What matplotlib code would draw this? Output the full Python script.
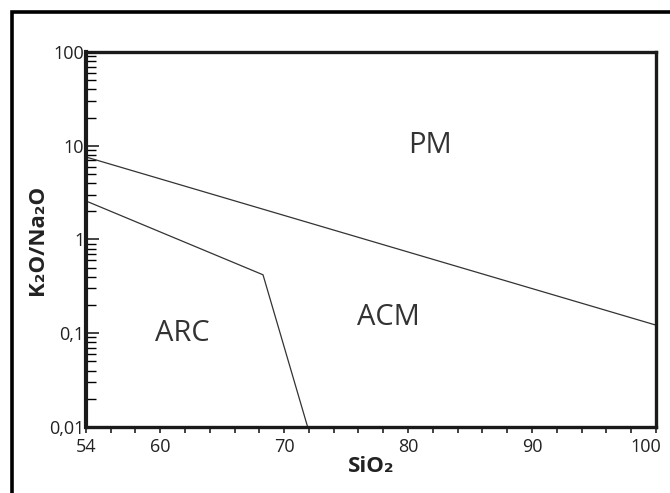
import matplotlib
matplotlib.use('Agg')
import matplotlib.pyplot as plt
import matplotlib.transforms as mtransforms
from matplotlib.patches import Rectangle
from matplotlib.ticker import FixedLocator, LogLocator, NullFormatter

plt.rcParams['font.family'] = ['Open Sans', 'DejaVu Sans']

# Líneas de discriminación (SiO2, K2O/Na2O)
pm_sio2 = [54, 100]
pm_ratio = [7.6, 0.122]
arc_sio2 = [54, 68.3, 71.9]
arc_ratio = [2.58, 0.42, 0.01]

# Etiquetas de campos
campos = ['PM', 'ACM', 'ARC']
campos_x = [81.8, 78.4, 61.8]
campos_y = [10.0, 0.148, 0.1]

x_ticks = [54, 60, 70, 80, 90, 100]
y_ticks = [0.01, 0.1, 1, 10, 100]
y_labels = ['0,01', '0,1', '1', '10', '100']

fig = plt.figure(figsize=(6.7, 4.93), dpi=100)
ax = fig.add_axes([0.128, 0.134, 0.851, 0.7605])

ax.plot(pm_sio2, pm_ratio, color='#333333', lw=0.9)
ax.plot(arc_sio2, arc_ratio, color='#333333', lw=0.9)

for txt, x, y in zip(campos, campos_x, campos_y):
    ax.text(x, y, txt, fontsize=21, color='#333333', ha='center', va='center')

ax.set_yscale('log')
ax.set_xlim(54, 100)
ax.set_ylim(0.01, 100)

ax.set_xticks(x_ticks)
ax.set_xticklabels([str(t) for t in x_ticks])
ax.xaxis.set_minor_locator(FixedLocator(range(54, 101, 2)))
ax.set_yticks(y_ticks)
ax.set_yticklabels(y_labels)
ax.yaxis.set_minor_locator(LogLocator(base=10, subs=range(2, 10), numticks=20))
ax.yaxis.set_minor_formatter(NullFormatter())

ax.tick_params(axis='x', which='both', direction='out', length=4, width=1.2,
               labelsize=13, colors='#222222', pad=4)
ax.tick_params(axis='y', which='major', direction='in', length=9, width=1.2,
               labelsize=13, colors='#222222', pad=1)
ax.tick_params(axis='y', which='minor', direction='in', length=7, width=1.0)

# la etiqueta "100" del eje x queda dentro de la figura
ultima = ax.get_xticklabels()[-1]
ultima.set_horizontalalignment('right')
ultima.set_transform(ultima.get_transform() +
                     mtransforms.ScaledTranslation(5 / 100, 0, fig.dpi_scale_trans))

for spine in ax.spines.values():
    spine.set_linewidth(2.4)
    spine.set_color('#1a1a1a')
ax.spines['left'].set_linewidth(3)

ax.set_xlabel('SiO₂', fontsize=16, fontweight='bold', color='#222222', labelpad=0)
ax.set_ylabel('K₂O/Na₂O', fontsize=16, fontweight='bold', color='#222222', labelpad=1)

# Marco exterior grueso (se sale por la derecha y abajo)
marco = Rectangle((12.5 / 670, -0.1), 1.2, 1 - 11.5 / 493 + 0.1, transform=fig.transFigure,
                  fill=False, edgecolor='black', lw=2.6, clip_on=False)
fig.patches.append(marco)

fig.savefig('out.png', dpi=100)
